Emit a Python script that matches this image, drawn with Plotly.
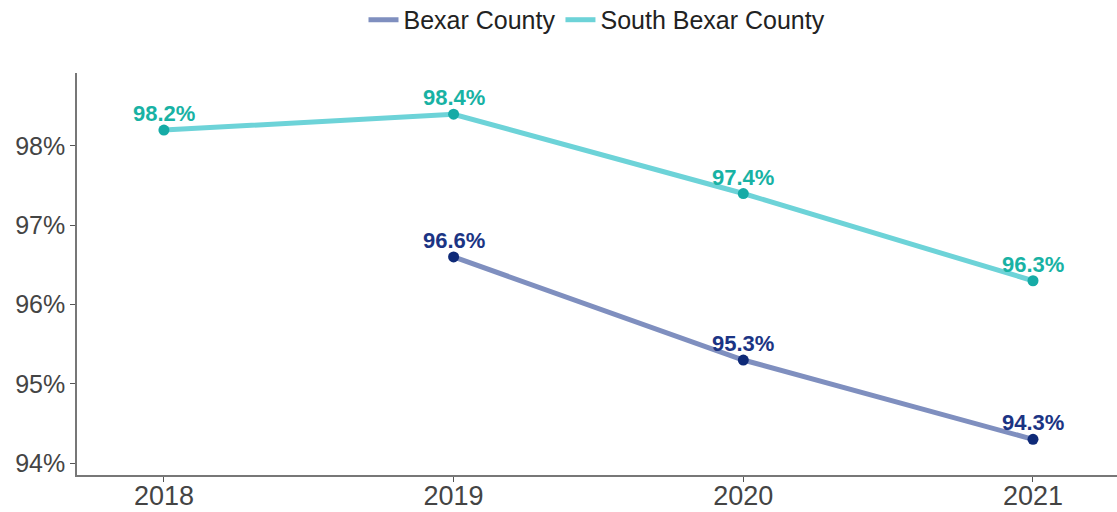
import plotly.graph_objects as go

years = [2018, 2019, 2020, 2021]
bexar_years = [2019, 2020, 2021]
bexar_vals = [96.6, 95.3, 94.3]
south_years = [2018, 2019, 2020, 2021]
south_vals = [98.2, 98.4, 97.4, 96.3]
y_ticks = [94, 95, 96, 97, 98]
y_tick_labels = ["94%", "95%", "96%", "97%", "98%"]

FONT = "Liberation Sans, Arial, Helvetica, sans-serif"

fig = go.Figure()

# Lines (legend entries)
fig.add_trace(go.Scatter(x=bexar_years, y=bexar_vals, mode="lines", name="Bexar County",
                         line=dict(color="#7F8FBF", width=5)))
fig.add_trace(go.Scatter(x=south_years, y=south_vals, mode="lines", name="South Bexar County",
                         line=dict(color="#6DD3D8", width=5)))
# Markers
fig.add_trace(go.Scatter(x=bexar_years, y=bexar_vals, mode="markers", showlegend=False,
                         marker=dict(color="#0F2A78", size=11)))
fig.add_trace(go.Scatter(x=south_years, y=south_vals, mode="markers", showlegend=False,
                         marker=dict(color="#16ABA6", size=11)))

# Value labels
for xs, vs, col in [(bexar_years, bexar_vals, "#1B3484"), (south_years, south_vals, "#18B2A4")]:
    for x, v in zip(xs, vs):
        fig.add_annotation(x=x, y=v, text=f"<b>{v:.1f}%</b>", showarrow=False,
                           xanchor="center", yanchor="bottom", yshift=2,
                           font=dict(family=FONT, size=22, color=col))

fig.update_layout(
    width=1117, height=512,
    margin=dict(l=77, r=0, t=73, b=37, autoexpand=False),
    paper_bgcolor="white", plot_bgcolor="white",
    font=dict(family=FONT, color="#444444"),
    legend=dict(orientation="h", x=0.5, xanchor="center", y=0.961, yanchor="middle",
                yref="container", font=dict(size=25, color="#222222"),
                itemwidth=30, tracegroupgap=0),
    showlegend=True,
)
fig.update_xaxes(range=[2017.7, 2021.29], tickvals=years, ticktext=[str(y) for y in years],
                 showgrid=False, zeroline=False, showline=True, linecolor="#777777", linewidth=1.5,
                 ticks="outside", ticklen=5, tickcolor="#555555", automargin=False,
                 ticklabelstandoff=-9,
                 tickfont=dict(size=27, color="#444444"))
fig.update_yaxes(range=[93.85, 98.92], tickvals=y_ticks, ticktext=y_tick_labels,
                 showgrid=False, zeroline=False, showline=True, linecolor="#777777", linewidth=1.5,
                 ticks="outside", ticklen=5, tickcolor="#555555", automargin=False,
                 tickfont=dict(size=25, color="#444444"))

fig.write_html("out.html", config={"displayModeBar": False},
               post_script="document.body.style.margin='0';")
